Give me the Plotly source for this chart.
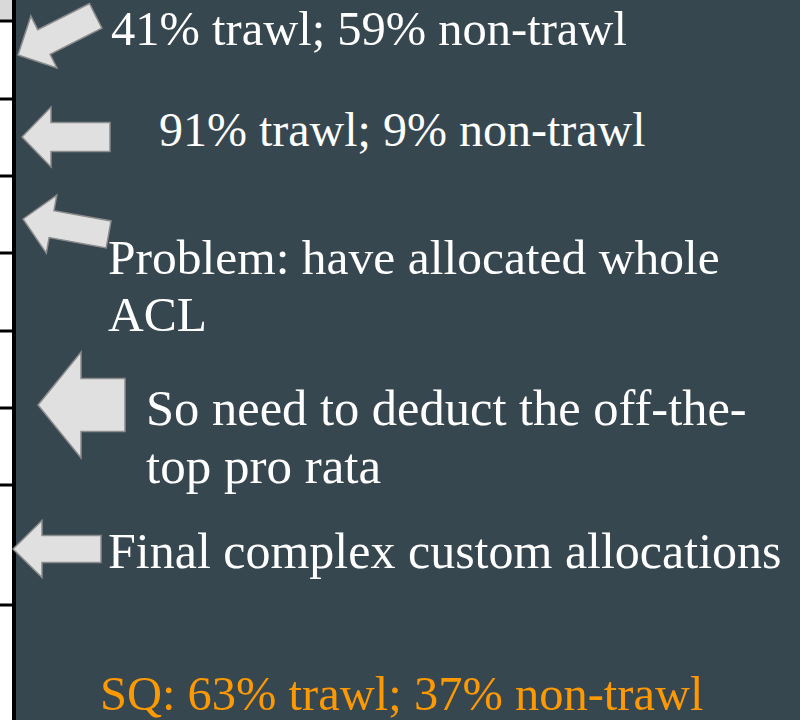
import math
import plotly.graph_objects as go

# ---- content ----
note_texts = [
    "41% trawl; 59% non-trawl",
    "91% trawl; 9% non-trawl",
    "Problem: have allocated whole",
    "ACL",
    "So need to deduct the off-the-",
    "top pro rata",
    "Final complex custom allocations",
    "SQ: 63% trawl; 37% non-trawl",
]
note_x = [110, 158, 107, 107, 145, 145, 107, 99]
note_baseline = [44, 145, 274, 331, 425, 483, 567, 709]
note_size = [48.5, 48, 49.5, 49.5, 50.5, 51, 50, 48.5]
note_colors = ["#ffffff"] * 7 + ["#FF9900"]

# table rows peeking in at the left edge (row divider positions)
row_dividers = [21, 99, 176, 253, 331, 408, 485, 605]

# arrows: tip x, tip y, angle of tail (deg, screen coords), length, head length, head half width, shaft half width
arrow_tip_x = [18, 22, 23, 38, 13]
arrow_tip_y = [55, 137, 219, 405, 549]
arrow_angle = [-26.7, 0, 10.2, 0, 0]
arrow_len = [87, 88, 87, 87, 88]
arrow_head = [29, 29, 29, 43, 29]
arrow_head_hw = [29, 30, 29.5, 53, 28.5]
arrow_shaft_hw = [13.8, 14.5, 13.7, 26.5, 13.5]

BG = "#37474F"
FONT = "Liberation Serif, Times New Roman, serif"


def arrow_path(tx, ty, ang, L, H, hw, sw):
    pts = [(0, 0), (H, -hw), (H, -sw), (L, -sw), (L, sw), (H, sw), (H, hw)]
    a = math.radians(ang)
    c, s = math.cos(a), math.sin(a)
    out = []
    for px, py in pts:
        out.append((tx + px * c - py * s, ty + px * s + py * c))
    return "M " + " L ".join(f"{x:.2f},{y:.2f}" for x, y in out) + " Z"


fig = go.Figure()
fig.add_trace(go.Scatter(x=[0, 800], y=[0, 720], mode="markers",
                         marker=dict(opacity=0), hoverinfo="skip", showlegend=False))

shapes = []
# white strip of the table at left
shapes.append(dict(type="rect", xref="x", yref="y", x0=0, x1=13, y0=0, y1=720,
                   fillcolor="#ffffff", line=dict(width=0), layer="below"))
shapes.append(dict(type="rect", xref="x", yref="y", x0=0, x1=13, y0=0, y1=20,
                   fillcolor="#d9d9d9", line=dict(width=0), layer="below"))
for yv in row_dividers:
    shapes.append(dict(type="line", xref="x", yref="y", x0=0, x1=13, y0=yv, y1=yv,
                       line=dict(color="#000000", width=3)))
shapes.append(dict(type="line", xref="x", yref="y", x0=14, x1=14, y0=0, y1=720,
                   line=dict(color="#000000", width=4)))

for i in range(len(arrow_tip_x)):
    shapes.append(dict(type="path", xref="x", yref="y",
                       path=arrow_path(arrow_tip_x[i], arrow_tip_y[i], arrow_angle[i],
                                       arrow_len[i], arrow_head[i], arrow_head_hw[i],
                                       arrow_shaft_hw[i]),
                       fillcolor="#e0e0e0", line=dict(color="#8c8c8c", width=1.5)))

annotations = []
for t, x, b, sz, col in zip(note_texts, note_x, note_baseline, note_size, note_colors):
    annotations.append(dict(x=x, y=b - 0.33 * sz, xref="x", yref="y", text=t,
                            showarrow=False, xanchor="left", yanchor="middle",
                            font=dict(family=FONT, size=sz, color=col),
                            borderpad=0))

fig.update_layout(
    width=800, height=720,
    margin=dict(l=0, r=0, t=0, b=0),
    paper_bgcolor=BG, plot_bgcolor=BG,
    xaxis=dict(range=[0, 800], visible=False, fixedrange=True),
    yaxis=dict(range=[720, 0], visible=False, fixedrange=True),
    shapes=shapes, annotations=annotations, showlegend=False,
)

fig.write_html(
    "out.html",
    config={"displayModeBar": False},
    post_script="document.body.style.margin='0';document.body.style.overflow='hidden';",
)
